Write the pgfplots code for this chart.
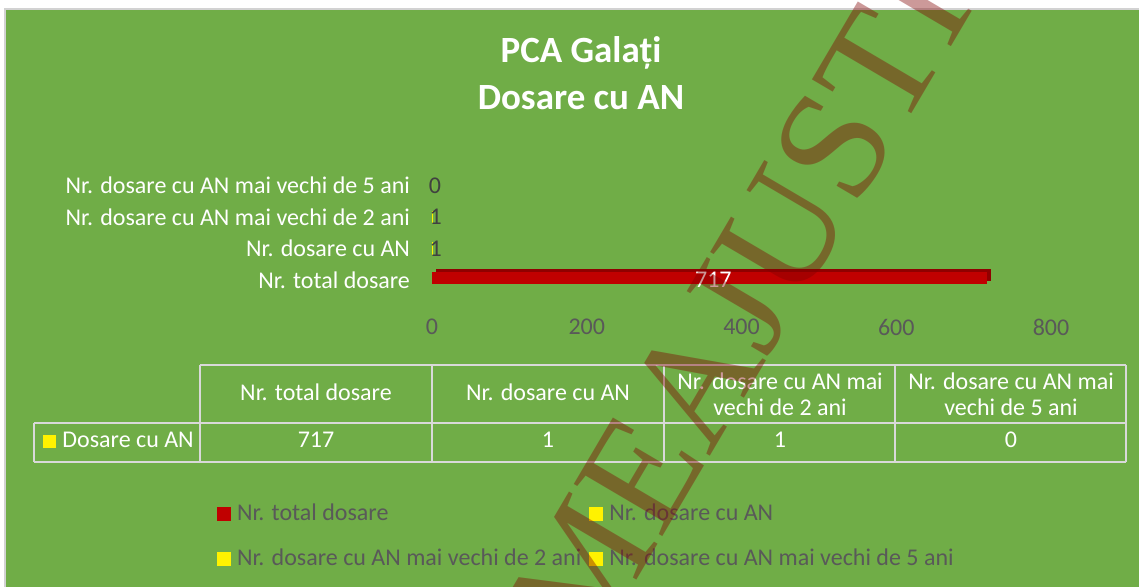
\documentclass[border=0pt]{standalone}
\usepackage{pgfplots}
\pgfplotsset{compat=1.18}
\usepackage{fontspec}
\setmainfont{Carlito}
\newfontfamily\wmfont{Liberation Serif}

\definecolor{bg}{HTML}{70AD47}
\definecolor{barred}{HTML}{C00000}
\definecolor{bardark}{HTML}{900000}
\definecolor{txtgray}{HTML}{595959}
\definecolor{lblgray}{HTML}{404040}
\definecolor{tblline}{HTML}{D9D9D9}
\definecolor{wm}{HTML}{800000}

\pgfplotsset{
  sq legend/.style={legend image code/.code={\fill[##1] (0pt,-3.5pt) rectangle (7pt,3.5pt);}},
}

\begin{document}
\begin{tikzpicture}[x=0.5pt, y=0.5pt, font=\fontsize{12}{14.4}\selectfont]
\useasboundingbox (0,0) rectangle (1139,587);
\fill[white] (0,0) rectangle (1139,587);
\fill[bg] (5,0) rectangle (1139,578);
\draw[gray!35, line width=1pt] (5,0) -- (5,578) -- (1139,578);
\coordinate (axpos) at (432,291.3);

% title
\node[anchor=base, text=white, font=\fontsize{18.5}{22}\selectfont\bfseries] at (581,524) {PCA Galați};
\node[anchor=base, text=white, font=\fontsize{18.5}{22}\selectfont\bfseries] at (581,477) {Dosare cu AN};

\begin{axis}[
  at={(axpos)}, anchor=south west, scale only axis,
  width=309.5pt, height=62.86pt,
  xmin=0, xmax=800, ymin=-0.5, ymax=3.5,
  xtick={0,200,400,600,800}, ytick={0,1,2,3},
  yticklabels={Nr. total dosare, Nr. dosare cu AN, Nr. dosare cu AN mai vechi de 2 ani, Nr. dosare cu AN mai vechi de 5 ani},
  axis line style={draw=none}, major tick length=0pt,
  /pgf/number format/assume math mode=true,
  xticklabel style={text=txtgray, anchor=center, yshift=-15.65pt},
  yticklabel style={text=white, anchor=east, xshift=-7.5pt},
  clip=false,
  legend columns=2,
  legend cell align=left,
  legend style={at={(-0.3473,-1.656)}, anchor=north west, draw=none, fill=none,
    text=txtgray, inner sep=0pt, outer sep=0pt, row sep=12.3pt,
    nodes={inner sep=0pt, text height=8.4pt, text depth=1.8pt},
    /tikz/every odd column/.append style={column sep=3pt},
    /tikz/every even column/.append style={column sep=4pt}},
]
% depth of the red bar
\addplot[forget plot, xbar, bar width=6.2pt, bar shift=1pt, fill=bardark, draw=none, xshift=2pt, yshift=1.5pt]
  coordinates {(717,0)};
\addplot[xbar, bar width=6.2pt, bar shift=1pt, fill=barred, draw=none, sq legend]
  coordinates {(717,0)};
\addlegendentry{Nr. total dosare}
\addplot[xbar, bar width=6.2pt, bar shift=0pt, fill=yellow, draw=none, sq legend,
  nodes near coords, every node near coord/.append style={text=lblgray, anchor=center, xshift=1.5pt}]
  coordinates {(1,1)};
\addlegendentry{Nr. dosare cu AN}
\addplot[xbar, bar width=6.2pt, bar shift=0pt, fill=yellow, draw=none, sq legend,
  nodes near coords, every node near coord/.append style={text=lblgray, anchor=center, xshift=1.5pt}]
  coordinates {(1,2)};
\addlegendentry{Nr. dosare cu AN mai vechi de 2 ani}
\addplot[xbar, bar width=6.2pt, bar shift=0pt, fill=yellow, draw=none, sq legend,
  nodes near coords, every node near coord/.append style={text=lblgray, anchor=center, xshift=1.5pt}]
  coordinates {(0,3)};
\addlegendentry{Nr. dosare cu AN mai vechi de 5 ani}
% value label of the red bar, at its middle
\addplot[forget plot, only marks, mark=none, nodes near coords, point meta=explicit symbolic,
  every node near coord/.append style={text=white, anchor=center, xshift=2pt}]
  coordinates {(358.5,0) [717]};
\end{axis}

% data table
\begin{scope}[tblline, line width=1pt]
\draw (200,222) -- (1126,222);
\draw (34,164) -- (1126,164);
\draw (34,125) -- (1126,125);
\draw (34,125) -- (34,164);
\foreach \xx in {200,432,664,895,1126} \draw (\xx,125) -- (\xx,222);
\end{scope}
\begin{scope}[text=white]
\node[anchor=base] at (316,186) {Nr. total dosare};
\node[anchor=base] at (548,186) {Nr. dosare cu AN};
\node[anchor=base] at (780,197) {Nr. dosare cu AN mai};
\node[anchor=base] at (780,171) {vechi de 2 ani};
\node[anchor=base] at (1011,197) {Nr. dosare cu AN mai};
\node[anchor=base] at (1011,171) {vechi de 5 ani};
\node[anchor=base] at (316,139) {717};
\node[anchor=base] at (548,139) {1};
\node[anchor=base] at (780,139) {1};
\node[anchor=base] at (1011,139) {0};
\node[anchor=base west, inner sep=0pt] at (62,139) {Dosare cu AN};
\end{scope}
\fill[yellow] (43,139) rectangle (56,152);

% watermark
\begin{scope}
\clip (0,0) rectangle (1139,587);
\node[anchor=base west, inner sep=0pt, rotate=59.5, text=wm, opacity=0.4,
  font={\wmfont\fontsize{78.5}{85}\selectfont}] at (589.4,-73.9) {MEAJUSTITIA};
\end{scope}
\end{tikzpicture}
\end{document}
